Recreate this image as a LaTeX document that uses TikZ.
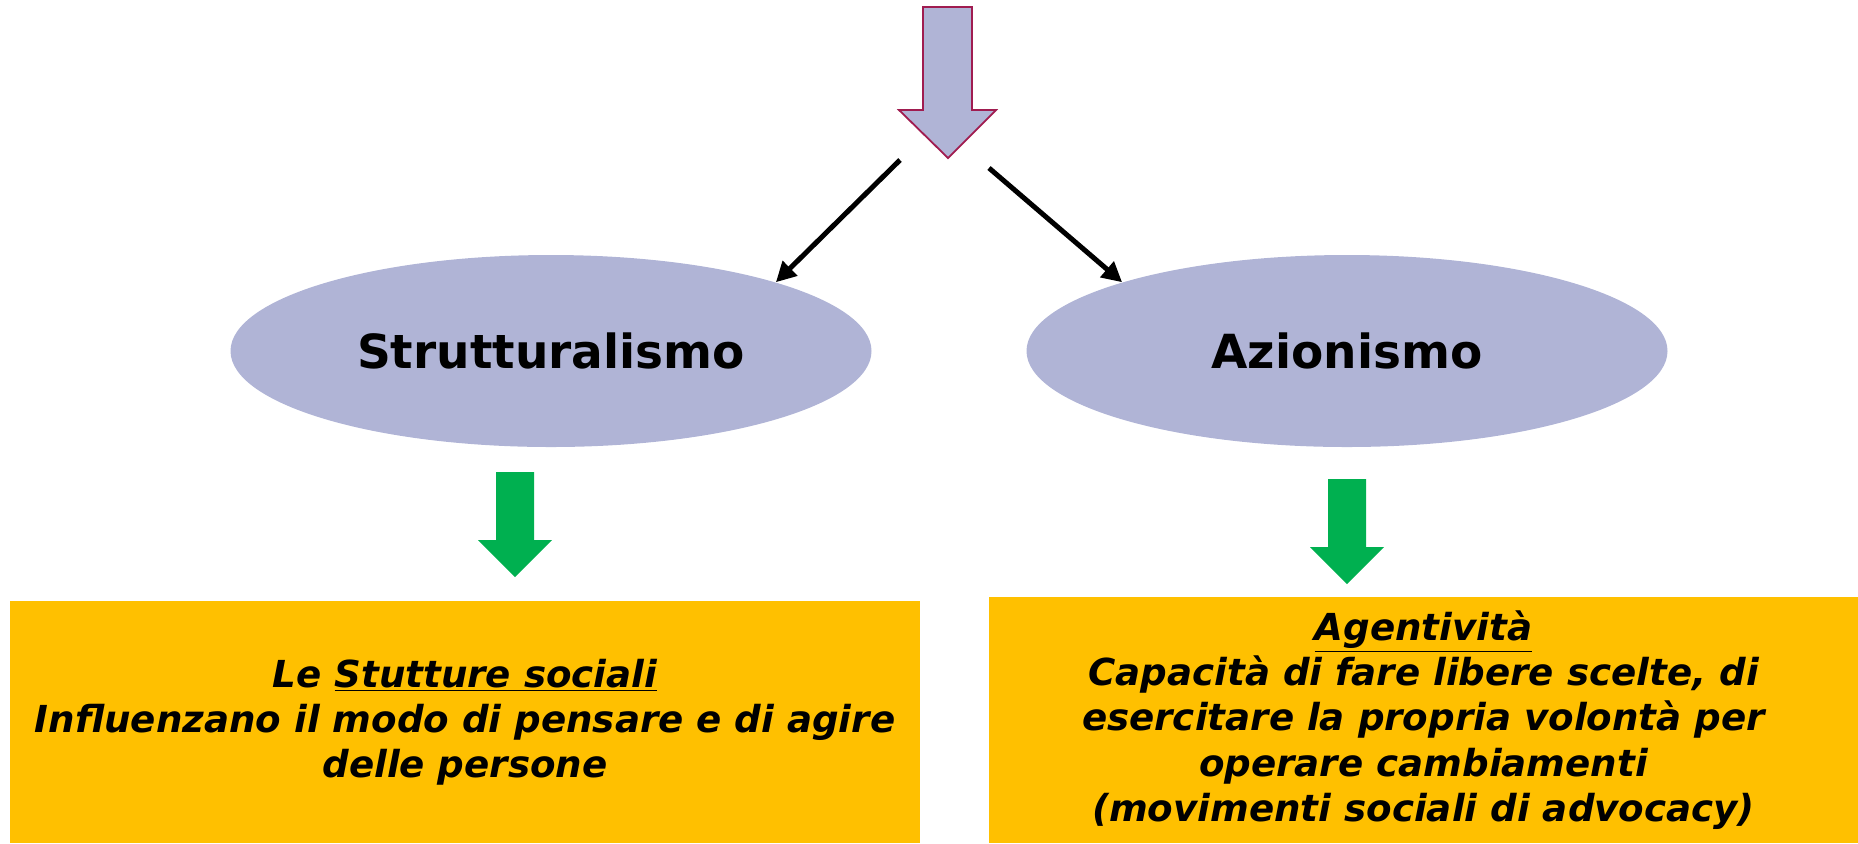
\documentclass[tikz,border=0pt]{standalone}
\usepackage{fontspec}
\setmainfont{DejaVu Sans}
\usepackage{xcolor}
\usepackage{tikz}
\usetikzlibrary{shapes.geometric,arrows.meta}
\definecolor{lilla}{RGB}{176,180,214}
\definecolor{bordo}{RGB}{160,28,80}
\definecolor{verde}{RGB}{0,176,80}
\definecolor{arancio}{RGB}{255,192,0}

\begin{document}
\begin{tikzpicture}[x=0.5pt,y=-0.5pt,
	ovale/.style={ellipse,fill=lilla,inner sep=0pt,minimum width=320.5pt,minimum height=96pt,font=\fontsize{23.5}{28}\selectfont\bfseries},
	riquadro/.style={rectangle,fill=arancio,inner sep=0pt,align=center,font=\fontsize{18.6}{22.6}\selectfont\bfseries\itshape},
	freccia/.style={line width=2.5pt,-{Triangle[length=10pt,width=10pt]}}]
			\useasboundingbox (0,0) rectangle (1858,843);
			% freccia in alto
			\draw [fill=lilla,draw=bordo,line width=0.9pt] (923,7) -- (972,7) -- (972,110) -- (996,110) -- (948,158) -- (899,110) -- (923,110) -- cycle;
			% ovali
			\node [ovale] (strut) at (551,351) {Strutturalismo};
			\node [ovale] (azio) at (1347,351) {Azionismo};
			\coordinate (ps) at (900,160);
			\coordinate (pd) at (989,168);
			\draw [freccia] (ps) -- (strut.17);
			\draw [freccia] (pd) -- (azio.163.5);
			% frecce verdi
			\foreach \dx/\dy in {0/0,832/7}
			\fill [verde,shift={(\dx,\dy)}] (496,472) -- (534,472) -- (534,540) -- (552,540) -- (515,577) -- (478,540) -- (496,540) -- cycle;
			% riquadri
			\node [riquadro,minimum width=455.25pt,minimum height=121pt] (strutture) at (465,722) {Le \underline{Stutture sociali}\\Influenzano il modo di pensare e di agire\\delle persone};
			\node [riquadro,minimum width=434.5pt,minimum height=123pt] (agenti) at (1423.5,720) {\underline{Agentività}\\Capacità di fare libere scelte, di\\esercitare la propria volontà per\\operare cambiamenti\\(movimenti sociali di advocacy)};
		\end{tikzpicture}
\end{document}
